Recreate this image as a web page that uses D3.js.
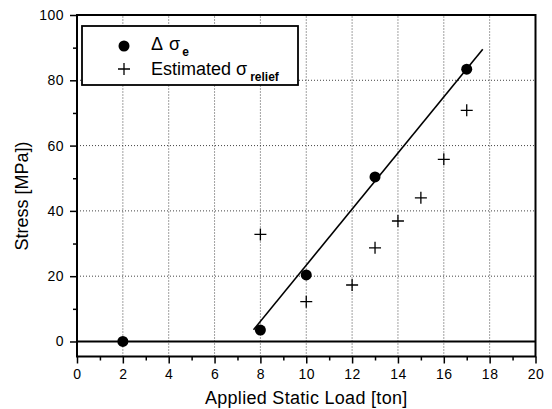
<!DOCTYPE html>
<html>
<head>
<meta charset="utf-8">
<script src="https://cdn.jsdelivr.net/npm/d3@7"></script>
<style>
  body { margin: 0; background: #fff; }
  svg { display: block; font-family: "Liberation Sans", Arial, Helvetica, sans-serif; }
</style>
</head>
<body>
<div class="chart"></div>
<script>
// delta sigma_e (filled circles)
var loadE = [2, 8, 10, 13, 17];
var stressE = [0, 3.5, 20.4, 50.4, 83.4];

// estimated sigma_relief (crosses)
var loadR = [8, 10, 12, 13, 14, 15, 16, 17];
var stressR = [32.8, 12.2, 17.3, 28.7, 36.9, 44, 55.8, 70.8];

// fitted line end points
var fitX = [7.7, 17.7];
var fitY = [3.6, 89.5];

var xMajor = [0, 2, 4, 6, 8, 10, 12, 14, 16, 18, 20];
var xMinor = [1, 3, 5, 7, 9, 11, 13, 15, 17, 19];
var yMajor = [0, 20, 40, 60, 80, 100];
var yMinor = [10, 30, 50, 70, 90];
var xGrid = [2, 4, 6, 8, 10, 12, 14, 16, 18];
var yGrid = [20, 40, 60, 80];

var width = 552, height = 409;
var margin = {top: 15, right: 16.5, bottom: 52.5, left: 77};

var svg = d3.select(".chart").append("svg")
            .attr("width", width)
            .attr("height", height);

var x = d3.scaleLinear().domain([0, 20]).range([margin.left, width - margin.right]);
var y = d3.scaleLinear().domain([-4.6, 100]).range([height - margin.bottom, margin.top]);

// dotted grid
svg.append("g").selectAll("line")
   .data(xGrid).enter().append("line")
   .attr("x1", function(d) { return x(d); })
   .attr("x2", function(d) { return x(d); })
   .attr("y1", y.range()[0])
   .attr("y2", y.range()[1])
   .attr("stroke", "#444")
   .attr("stroke-width", 1)
   .attr("stroke-dasharray", "1,2");

svg.append("g").selectAll("line")
   .data(yGrid).enter().append("line")
   .attr("x1", x.range()[0])
   .attr("x2", x.range()[1])
   .attr("y1", function(d) { return y(d); })
   .attr("y2", function(d) { return y(d); })
   .attr("stroke", "#444")
   .attr("stroke-width", 1)
   .attr("stroke-dasharray", "1,2");

// zero line
svg.append("line")
   .attr("x1", x(0)).attr("x2", x(20))
   .attr("y1", y(0)).attr("y2", y(0))
   .attr("stroke", "#000")
   .attr("stroke-width", 2);

// axes
var xAxis = svg.append("g")
   .attr("transform", "translate(0," + y.range()[0] + ")")
   .call(d3.axisBottom(x).tickValues(xMajor).tickSize(7).tickPadding(6).tickFormat(d3.format("d")));
var xAxisMinor = svg.append("g")
   .attr("transform", "translate(0," + y.range()[0] + ")")
   .call(d3.axisBottom(x).tickValues(xMinor).tickSize(4).tickFormat(""));
var yAxis = svg.append("g")
   .attr("transform", "translate(" + x.range()[0] + ",0)")
   .call(d3.axisLeft(y).tickValues(yMajor).tickSize(7).tickPadding(6).tickFormat(d3.format("d")));
var yAxisMinor = svg.append("g")
   .attr("transform", "translate(" + x.range()[0] + ",0)")
   .call(d3.axisLeft(y).tickValues(yMinor).tickSize(4).tickFormat(""));

[xAxis, xAxisMinor, yAxis, yAxisMinor].forEach(function(g) {
  g.select(".domain").remove();
  g.selectAll(".tick line").attr("stroke", "#000").attr("stroke-width", 1.5);
  g.selectAll("text").attr("font-size", 14).attr("fill", "#000")
   .attr("letter-spacing", 0.5)
   .attr("font-family", "'Liberation Sans', Arial, sans-serif");
});

// frame
svg.append("rect")
   .attr("x", x.range()[0])
   .attr("y", y.range()[1])
   .attr("width", x.range()[1] - x.range()[0])
   .attr("height", y.range()[0] - y.range()[1])
   .attr("fill", "none")
   .attr("stroke", "#000")
   .attr("stroke-width", 2);

// fitted line
svg.append("line")
   .attr("x1", x(fitX[0])).attr("y1", y(fitY[0]))
   .attr("x2", x(fitX[1])).attr("y2", y(fitY[1]))
   .attr("stroke", "#000")
   .attr("stroke-width", 1.6);

// circles
svg.append("g").selectAll("circle")
   .data(loadE).enter().append("circle")
   .attr("cx", function(d) { return x(d); })
   .attr("cy", function(d, i) { return y(stressE[i]); })
   .attr("r", 5.5)
   .attr("fill", "#000");

// crosses
svg.append("g").selectAll("path")
   .data(loadR).enter().append("path")
   .attr("d", function(d, i) {
      var cx = x(d), cy = y(stressR[i]);
      return "M" + (cx - 6) + "," + cy + "H" + (cx + 6) + "M" + cx + "," + (cy - 6) + "V" + (cy + 6);
   })
   .attr("stroke", "#000")
   .attr("stroke-width", 1.3)
   .attr("fill", "none");

// legend
var legend = svg.append("g");
legend.append("rect")
   .attr("x", 82).attr("y", 26)
   .attr("width", 216).attr("height", 59)
   .attr("fill", "#fff")
   .attr("stroke", "#000")
   .attr("stroke-width", 1.8);
legend.append("circle")
   .attr("cx", 124).attr("cy", 46).attr("r", 5.5).attr("fill", "#000");
legend.append("path")
   .attr("d", "M118,69H130M124,63V75")
   .attr("stroke", "#000").attr("stroke-width", 1.3);

var t1 = legend.append("text").attr("x", 151).attr("y", 50).attr("font-size", 18);
t1.append("tspan").text("\u0394");
t1.append("tspan").attr("dx", 6).text("\u03c3");
t1.append("tspan").attr("dy", 6).attr("dx", 2).attr("font-size", 12).attr("font-weight", "bold").text("e");

var t2 = legend.append("text").attr("x", 151).attr("y", 75).attr("font-size", 18);
t2.append("tspan").text("Estimated \u03c3");
t2.append("tspan").attr("dy", 6).attr("dx", 3).attr("font-size", 12).attr("font-weight", "bold").text("relief");

// axis titles
svg.append("text")
   .attr("x", (x.range()[0] + x.range()[1]) / 2)
   .attr("y", 404)
   .attr("text-anchor", "middle")
   .attr("font-size", 18)
   .attr("letter-spacing", 0.3)
   .text("Applied Static Load [ton]");

svg.append("text")
   .attr("transform", "translate(28,196) rotate(-90)")
   .attr("text-anchor", "middle")
   .attr("font-size", 18)
   .text("Stress [MPa])");
</script>
</body>
</html>
